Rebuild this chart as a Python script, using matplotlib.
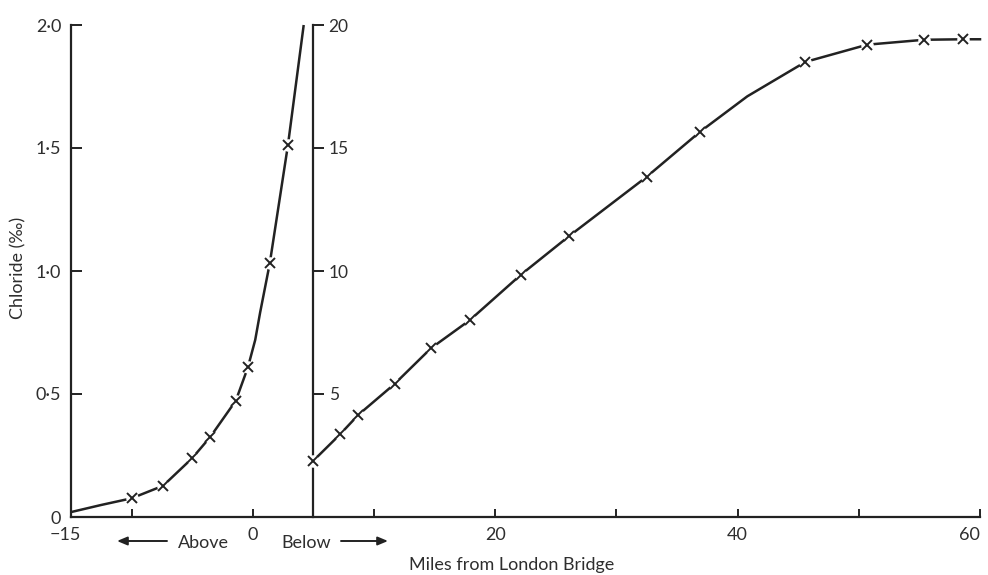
import matplotlib
matplotlib.use("Agg")
import matplotlib.pyplot as plt

# ---------------- data ----------------
# Curve on the 0-2 chloride scale (above London Bridge / just below)
upper_miles   = [-10.0, -7.4, -5.0, -3.5, -1.4, -0.4, 1.4, 2.9]
upper_chlor   = [0.076, 0.127, 0.239, 0.326, 0.473, 0.609, 1.031, 1.512]
# traced line of that curve (includes unmarked parts of the drawn line)
upper_line_miles = [-15.0, -12.5, -10.0, -7.4, -5.0, -3.5, -1.4, -0.4, 0.2, 0.6, 1.4, 2.9, 4.2]
upper_line_chlor = [0.020, 0.049, 0.076, 0.127, 0.239, 0.326, 0.473, 0.609, 0.72, 0.83, 1.031, 1.512, 2.0]

# Curve on the 0-20 chloride scale (below London Bridge)
lower_miles = [5.0, 7.2, 8.7, 11.7, 14.7, 17.9, 22.1, 26.1, 32.5, 36.9, 45.6, 50.7, 55.4, 58.6]
lower_chlor = [2.29, 3.36, 4.15, 5.41, 6.86, 8.0, 9.84, 11.42, 13.83, 15.66, 18.5, 19.2, 19.4, 19.42]
lower_line_miles = [5.0, 7.2, 8.7, 11.7, 14.7, 17.9, 22.1, 26.1, 32.5, 36.9, 40.8, 45.6, 50.7, 55.4, 58.6, 60.0]
lower_line_chlor = [2.29, 3.36, 4.15, 5.41, 6.86, 8.0, 9.84, 11.42, 13.83, 15.66, 17.1, 18.5, 19.2, 19.4, 19.42, 19.42]

x_ticks        = [-10, 0, 10, 20, 30, 40, 50, 60]
x_label_vals   = [-15, 0, 20, 40, 60]
x_label_texts  = ["\u221215", "0", "20", "40", "60"]
y_ticks        = [0, 0.5, 1.0, 1.5, 2.0]
y_tick_labels  = ["0", "0\u00b75", "1\u00b70", "1\u00b75", "2\u00b70"]
y2_ticks       = [5, 10, 15, 20]
y2_tick_labels = ["5", "10", "15", "20"]
inner_axis_mile = 5

# ---------------- styling ----------------
FONT = ["Lato", "DejaVu Sans"]
plt.rcParams["font.family"] = FONT
INK = "#222222"
TXT = "#2e2e2e"
FS = 13

fig = plt.figure(figsize=(9.88, 5.75), dpi=100)
ax = fig.add_axes([71/988, 1-517/575, (980-71)/988, (517-25)/575])
ax.set_xlim(-15, 60)
ax.set_ylim(0, 2.0)
for s in ("top", "right"):
    ax.spines[s].set_visible(False)
for s in ("left", "bottom"):
    ax.spines[s].set_linewidth(1.6)
    ax.spines[s].set_color(INK)

ax.set_xticks(x_ticks)
ax.set_xticklabels([""] * len(x_ticks))
ax.tick_params(axis="x", direction="in", length=6, width=1.4, color=INK)
ax.set_yticks(y_ticks)
ax.set_yticklabels(y_tick_labels)
ax.tick_params(axis="y", direction="in", length=8, width=1.4, color=INK,
               pad=7, labelsize=FS, labelcolor=TXT)

for v, t in zip(x_label_vals, x_label_texts):
    ha = "right" if v == 60 else "center"
    xx = -15.5 if v == -15 else v
    ax.text(xx, -0.036, t, ha=ha, va="center", fontsize=FS, color=TXT,
            transform=ax.get_xaxis_transform(), clip_on=False)

# inner axis for 0-20 scale
ax2 = ax.twinx()
ax2.set_ylim(0, 20)
for s in ("top", "left", "bottom"):
    ax2.spines[s].set_visible(False)
ax2.spines["right"].set_position(("data", inner_axis_mile))
ax2.spines["right"].set_linewidth(1.6)
ax2.spines["right"].set_color(INK)
ax2.set_yticks(y2_ticks)
ax2.set_yticklabels(y2_tick_labels)
ax2.tick_params(axis="y", direction="out", length=8, width=1.4, color=INK,
                pad=3, labelsize=FS - 0.5, labelcolor=TXT)

# curves
LW = 1.8
ax.plot(upper_line_miles, upper_line_chlor, color=INK, lw=LW, zorder=3,
        solid_capstyle="butt", solid_joinstyle="round", clip_on=False)
ax.plot(upper_miles, upper_chlor, ls="none", marker="o", ms=9, mfc="white",
        mec="none", zorder=4, clip_on=False)
ax.plot(upper_miles, upper_chlor, ls="none", marker="x", ms=6.5, mew=1.4,
        color=INK, zorder=5, clip_on=False)

ax2.plot(lower_line_miles, lower_line_chlor, color=INK, lw=LW, zorder=3,
         solid_joinstyle="round", clip_on=False)
ax2.plot(lower_miles, lower_chlor, ls="none", marker="o", ms=9, mfc="white",
         mec="none", zorder=4, clip_on=False)
ax2.plot(lower_miles, lower_chlor, ls="none", marker="x", ms=6.5, mew=1.4,
         color=INK, zorder=5, clip_on=False)

# labels and arrows
fig.text(18/988, 1-268/575, "Chloride (\u2030)", rotation=90, ha="center",
         va="center", fontsize=FS, color=TXT)
fig.text(512/988, 1-565/575, "Miles from London Bridge", ha="center",
         va="center", fontsize=FS, color=TXT)
fig.text(203/988, 1-543/575, "Above", ha="center", va="center",
         fontsize=FS, color=TXT)
fig.text(306/988, 1-543/575, "Below", ha="center", va="center",
         fontsize=FS, color=TXT)
fig.add_artist(matplotlib.patches.FancyArrowPatch(
    (167/988, 1-541/575), (117/988, 1-541/575), transform=fig.transFigure,
    arrowstyle="-|>,head_length=6,head_width=2.5", color=INK, lw=1.4,
    shrinkA=0, shrinkB=0))
fig.add_artist(matplotlib.patches.FancyArrowPatch(
    (341/988, 1-541/575), (388/988, 1-541/575), transform=fig.transFigure,
    arrowstyle="-|>,head_length=6,head_width=2.5", color=INK, lw=1.4,
    shrinkA=0, shrinkB=0))

fig.savefig("out.png", dpi=100, facecolor="white")
